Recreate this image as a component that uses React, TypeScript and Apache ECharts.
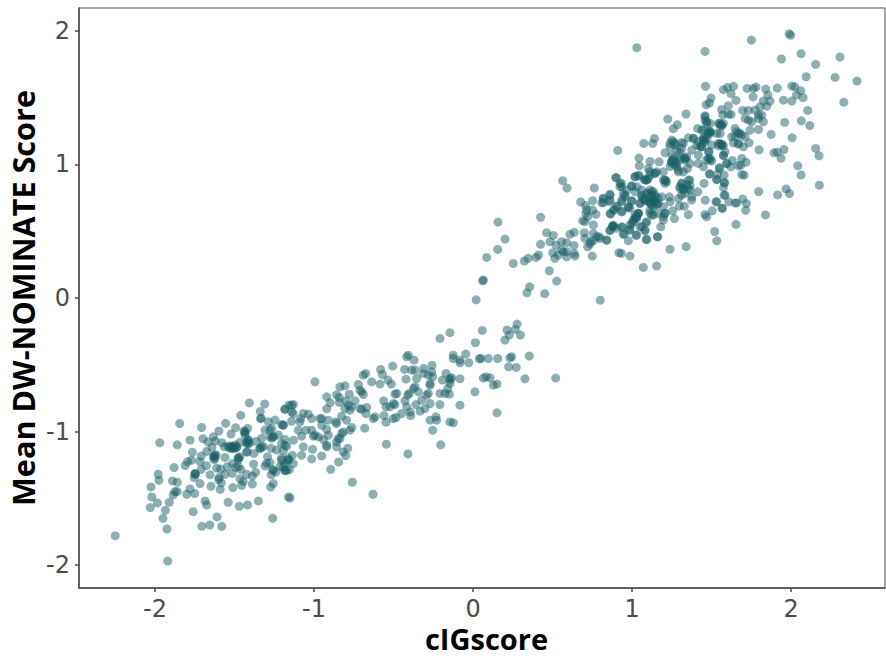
import React, { useEffect, useRef } from "react";
import * as echarts from "echarts";

const xTicks = [-2, -1, 0, 1, 2];
const yTicks = [-2, -1, 0, 1, 2];
const xTitle = "cIGscore";
const yTitle = "Mean DW-NOMINATE Score";

const lowerLeft: number[][] = [
[-2.25,-1.78],[-1.92,-1.97],[-1.925,-1.73],[-1.95,-1.65],[-1.935,-1.59],[-1.91,-1.53],[-2.03,-1.57],[-1.985,-1.535],[-2.02,-1.49],[-2.025,-1.415],[-1.975,-1.365],[-1.98,-1.32],[-1.88,-1.27],[-1.89,-1.37],[-1.86,-1.38],[-1.875,-1.45],[-1.885,-1.475],[-1.86,-1.45],[-1.8,-1.47],[-1.78,-1.43],[-1.75,-1.465],[-1.76,-1.6],[-1.685,-1.52],[-1.675,-1.55],[-1.705,-1.71],[-1.655,-1.7],[-1.61,-1.64],[-1.58,-1.71],[-1.54,-1.53],[-1.47,-1.56],[-1.418,-1.55],[-1.35,-1.52],[-1.26,-1.65],[-1.16,-1.49],[-1.97,-1.085],[-1.845,-0.94],[-1.86,-1.1],[-1.78,-1.065],[-1.707,-0.97],[-1.765,-1.155],[-1.81,-1.255],[-1.795,-1.225],[-1.77,-1.215],[-1.71,-1.184],[-1.717,-1.225],[-1.677,-1.256],[-1.71,-1.284],[-1.749,-1.32],[-1.745,-1.318],[-1.753,-1.346],[-1.717,-1.39],[-1.654,-1.324],[-1.648,-1.41],[-1.59,-1.434],[-1.6,-1.36],[-1.596,-1.344],[-1.583,-1.384],[-1.612,-1.274],[-1.587,-1.28],[-1.56,-1.32],[-1.545,-1.264],[-1.514,-1.314],[-1.51,-1.42],[-1.455,-1.404],[-1.445,-1.374],[-1.466,-1.354],[-1.424,-1.32],[-1.388,-1.394],[-1.388,-1.334],[-1.367,-1.306],[-1.273,-1.416],[-1.256,-1.39],[-1.269,-1.324],[-1.26,-1.289],[-1.24,-1.304],[-1.183,-1.294],[-1.212,-1.26],[-1.308,-1.259],[-1.298,-1.239],[-1.38,-1.244],[-1.292,-1.189],[-1.277,-1.234],[-1.512,-1.239],[-1.493,-1.269],[-1.476,-1.264],[-1.461,-1.284],[-1.478,-1.199],[-1.474,-1.197],[-1.424,-1.154],[-1.42,-1.152],[-1.56,-1.194],[-1.627,-1.184],[-1.622,-1.18],[-1.629,-1.209],[-1.617,-1.174],[-1.675,-1.149],[-1.642,-1.119],[-1.698,-1.054],[-1.667,-1.079],[-1.633,-1.039],[-1.621,-1.071],[-1.598,-0.996],[-1.556,-0.939],[-1.579,-1.084],[-1.564,-1.114],[-1.528,-1.109],[-1.507,-1.114],[-1.487,-1.114],[-1.518,-1.126],[-1.497,-1.126],[-1.522,-1.019],[-1.493,-0.971],[-1.461,-0.879],[-1.407,-0.786],[-1.31,-0.794],[-1.338,-0.851],[-1.336,-0.904],[-1.332,-0.9],[-1.44,-0.996],[-1.434,-1.009],[-1.417,-0.976],[-1.413,-1.064],[-1.407,-1.089],[-1.424,-1.089],[-1.466,-1.081],[-1.365,-1.074],[-1.378,-1.164],[-1.34,-1.126],[-1.319,-1.114],[-1.329,-1.051],[-1.27,-1.126],[-1.277,-1.039],[-1.256,-1.039],[-1.266,-0.976],[-1.245,-0.914],[-1.287,-0.926],[-1.193,-0.951],[-1.183,-0.834],[-1.157,-0.801],[-1.308,-0.989],[-1.224,-1.026],[-1.183,-1.059],[-1.204,-1.089],[-1.193,-1.144],[-1.235,-1.139],[-1.204,-1.201],[-1.162,-1.214],[-1.183,-1.239],
];

const lowerDense: number[][] = [
[-1.539,-1.114],[-1.518,-1.114],[-1.497,-1.101],[-1.528,-1.126],[-1.507,-1.126],[-1.486,-1.119],[-1.434,-1.001],[-1.434,-1.026],[-1.413,-1.064],[-1.413,-1.089],[-1.424,-1.076],[-1.277,-0.989],[-1.256,-1.039],[-1.266,-1.051],[-1.34,-1.126],[-1.329,-1.114],[-1.466,-1.189],[-1.476,-1.214],[-1.633,-1.189],[-1.623,-1.201],[-1.749,-1.314],[-1.256,-1.289],[-1.182,-1.289],[-1.162,-1.201],
];

const lowerRight: number[][] = [
[-1.151,-1.498],[-0.759,-1.38],[-0.629,-1.47],[-0.895,-1.283],[-0.845,-1.228],[-1.015,-1.205],[-0.952,-1.183],[-1.078,-1.178],[-1.136,-1.178],[-1.009,-1.133],[-1.067,-1.115],[-1.13,-1.065],[-1.183,-1.103],[-1.172,-1.11],[-1.13,-1.24],[-1.172,-1.29],[-1.193,-1.265],[-1.155,-1.285],[-1.162,-1.215],[-1.204,-1.215],[-1.078,-1.035],[-1.099,-0.99],[-1.05,-0.99],[-1.015,-0.99],[-0.994,-1.028],[-1.004,-1.035],[-0.973,-1.04],[-0.941,-1.06],[-0.91,-1.028],[-0.92,-1.103],[-0.92,-1.115],[-0.92,-0.985],[-0.952,-0.953],[-0.962,-0.903],[-0.952,-0.903],[-0.91,-0.915],[-1.015,-0.903],[-1.036,-0.87],[-1.067,-0.865],[-1.084,-0.903],[-1.088,-0.928],[-1.141,-0.923],[-1.193,-0.953],[-1.204,-0.948],[-1.183,-0.833],[-1.141,-0.803],[-1.13,-0.798],[-1.141,-0.853],[-1.13,-0.865],[-0.994,-0.628],[-0.92,-0.74],[-0.899,-0.785],[-0.92,-0.83],[-0.858,-0.725],[-0.841,-0.745],[-0.841,-0.782],[-0.837,-0.665],[-0.805,-0.658],[-0.778,-0.72],[-0.799,-0.77],[-0.784,-0.803],[-0.805,-0.828],[-0.742,-0.77],[-0.763,-0.815],[-0.774,-0.84],[-0.862,-0.928],[-0.858,-0.94],[-0.826,-0.885],[-0.795,-0.915],[-0.816,-1.003],[-0.826,-1.015],[-0.763,-0.97],[-0.774,-0.99],[-0.847,-1.053],[-0.837,-1.053],[-0.858,-1.078],[-0.858,-1.115],[-0.788,-1.125],[-0.816,-1.153],[-0.801,-1.18],[-0.681,-0.975],[-0.7,-0.833],[-0.711,-0.828],[-0.669,-0.82],[-0.673,-0.865],[-0.627,-0.903],[-0.616,-0.89],[-0.711,-0.69],[-0.7,-0.703],[-0.69,-0.723],[-0.721,-0.648],[-0.69,-0.578],[-0.675,-0.565],[-0.637,-0.628],[-0.585,-0.645],[-0.581,-0.535],[-0.57,-0.573],[-0.535,-0.615],[-0.514,-0.645],[-0.505,-0.51],[-0.491,-0.72],[-0.48,-0.715],[-0.562,-0.77],[-0.547,-0.815],[-0.522,-0.815],[-0.491,-0.798],[-0.501,-0.79],[-0.56,-0.88],[-0.547,-0.93],[-0.501,-0.903],[-0.484,-0.895],[-0.449,-0.865],[-0.417,-0.815],[-0.428,-0.77],[-0.411,-0.728],[-0.4,-0.715],[-0.392,-0.88],[-0.396,-0.853],[-0.545,-1.095],[-0.409,-1.168],[-0.359,-0.798],[-0.333,-0.848],[-0.302,-0.828],[-0.323,-0.765],[-0.292,-0.728],[-0.281,-0.715],[-0.27,-0.79],[-0.27,-0.653],[-0.27,-0.64],[-0.281,-0.578],[-0.417,-0.44],[-0.407,-0.428],[-0.371,-0.465],[-0.43,-0.535],[-0.422,-0.608],[-0.386,-0.54],[-0.365,-0.54],[-0.354,-0.603],[-0.375,-0.678],[-0.365,-0.665],[-0.344,-0.703],[-0.31,-0.528],[-0.313,-0.565],[-0.258,-0.503],[-0.26,-0.553],[-0.254,-0.59],[-0.27,-0.915],[-0.233,-0.89],[-0.229,-0.915],[-0.254,-0.99],[-0.203,-1.1],[-0.145,-0.928],[-0.124,-0.935],[-0.208,-0.798],[-0.208,-0.715],[-0.176,-0.715],[-0.149,-0.72],[-0.159,-0.678],[-0.193,-0.615],[-0.17,-0.565],[-0.145,-0.603],[-0.134,-0.598],[-0.145,-0.64],[-0.145,-0.615],[-0.082,-0.605],[-0.208,-0.303],[-0.145,-0.26],[-0.124,-0.428],[-0.124,-0.453],[-0.082,-0.465],[-0.082,-0.485],[-0.046,-0.42],[-0.027,-0.485],[0.012,-0.703],[-0.082,-0.803],[0.151,-0.86],[0.015,-0.335],[0.058,-0.243],[0.04,-0.455],[0.05,-0.453],[0.096,-0.453],[0.155,-0.453],[0.065,-0.6],[0.082,-0.59],[0.107,-0.598],[0.128,-0.653],[0.151,-0.645],[0.201,-0.315],[0.214,-0.24],[0.228,-0.278],[0.266,-0.235],[0.277,-0.195],[0.298,-0.278],[0.232,-0.448],[0.243,-0.44],[0.354,-0.435],[0.224,-0.515],[0.272,-0.52],[0.327,-0.605],[0.52,-0.6],
];

const upperLeft: number[][] = [
[0.02,-0.014],[0.065,0.134],[0.061,0.129],[0.086,0.304],[0.155,0.364],[0.201,0.441],[0.157,0.569],[0.253,0.259],[0.323,0.277],[0.346,0.297],[0.396,0.304],[0.413,0.322],[0.425,0.402],[0.425,0.604],[0.356,0.084],[0.339,0.039],[0.451,0.032],[0.48,0.204],[0.526,0.127],[0.8,-0.016],[0.463,0.489],[0.505,0.469],[0.484,0.422],[0.501,0.339],[0.522,0.397],[0.515,0.297],[0.536,0.322],[0.557,0.422],[0.589,0.414],[0.589,0.347],[0.568,0.347],[0.557,0.359],[0.589,0.309],[0.635,0.394],[0.637,0.334],[0.641,0.314],[0.61,0.477],[0.637,0.492],[0.75,0.314],[0.721,0.384],[0.704,0.447],[0.7,0.489],[0.757,0.484],[0.778,0.459],[0.757,0.429],[0.74,0.422],[0.736,0.404],[0.794,0.459],[0.84,0.434],[0.564,0.879],[0.591,0.824],[0.763,0.824],[0.677,0.719],[0.708,0.692],[0.715,0.659],[0.71,0.634],[0.752,0.729],[0.752,0.659],[0.773,0.627],[0.721,0.609],[0.69,0.579],[0.704,0.572],[0.757,0.547],[0.82,0.747],[0.82,0.714],[0.857,0.722],[0.861,0.777],[0.866,0.629],[0.887,0.659],[0.904,0.689],[0.937,0.649],[0.937,0.734],[0.945,0.779],[0.924,0.834],[0.933,0.859],[0.899,0.902],[0.861,0.504],[0.878,0.539],[0.882,0.534],[0.903,0.522],[0.939,0.529],[0.945,0.479],[0.977,0.429],[0.987,0.514],[1.029,0.472],[1.081,0.509],[1.092,0.439],[1.159,0.459],[0.918,0.339],[0.933,0.334],[0.987,0.314],[1.071,0.229],[1.155,0.239],[0.977,0.679],[0.987,0.672],[0.998,0.727],[0.956,0.772],[0.998,0.839],[1.019,0.909],[1.044,0.914],[1.061,0.772],[1.071,0.747],[1.05,0.709],[1.124,0.797],[1.113,0.709],[1.134,0.722],[1.155,0.697],[1.113,0.634],[1.134,0.622],[1.025,0.609],[1.008,0.584],[1.04,0.634],[0.998,0.559],[1.092,0.572],[1.061,0.534],[1.077,0.889],[1.092,0.884],[1.144,0.934],[1.113,0.947],[1.144,0.722],
];

const upperMiddle: number[][] = [
[1.225,1.34],[1.34,1.378],[1.285,1.298],[1.26,1.268],[0.91,1.105],[1.074,1.158],[1.13,1.158],[1.141,1.195],[1.044,1.048],[1.046,0.99],[1.113,1.023],[1.17,1.02],[1.103,0.97],[1.155,0.945],[1.113,0.92],[1.208,1.088],[1.25,1.183],[1.271,1.158],[1.313,1.165],[1.239,1.133],[1.25,1.07],[1.302,1.095],[1.271,1.02],[1.25,1.008],[1.281,0.983],[1.292,0.945],[1.208,0.883],[1.197,0.945],[1.218,0.87],[1.354,1.2],[1.386,1.195],[1.407,1.145],[1.376,1.108],[1.428,1.133],[1.344,1.058],[1.334,1.033],[1.365,1.008],[1.348,0.97],[1.323,0.945],[1.417,1.07],[1.417,1.008],[1.449,0.983],[1.48,1.045],[1.491,1.033],[1.48,1.095],[1.413,1.27],[1.459,1.365],[1.47,1.32],[1.491,1.245],[1.449,1.195],[1.459,1.17],[1.438,1.258],[1.554,1.308],[1.564,1.288],[1.533,1.233],[1.543,1.158],[1.501,1.145],[1.564,1.145],[1.585,1.095],[1.575,1.07],[1.55,0.97],[1.487,0.928],[1.533,0.888],[1.581,0.865],[1.453,0.858],[1.413,0.795],[1.461,0.733],[1.528,0.72],[1.566,0.673],[1.505,0.653],[1.459,0.625],[1.47,0.608],[1.52,0.498],[1.533,0.428],[1.596,1.008],[1.585,0.77],[1.575,0.828],[1.34,0.385],[1.239,0.365],[1.354,0.625],[1.329,0.688],[1.298,0.688],[1.267,0.595],[1.256,0.653],[1.181,0.533],[1.162,0.458],[1.09,0.438],[1.313,0.858],[1.354,0.883],[1.365,0.845],[1.323,0.82],[1.302,0.82],[1.365,0.808],[1.313,0.77],[1.292,0.745],[1.235,0.758],[1.239,0.72],[1.354,0.82],[1.376,0.758],[1.124,0.77],[1.103,0.783],[1.145,0.758],[1.113,0.72],[1.134,0.683],[1.166,0.708],[1.113,0.658],[1.082,0.733],[1.061,0.758],[1.197,0.683],[1.166,0.633],[1.208,0.633],[1.197,0.583],[1.124,0.62],[1.187,0.758],[1.05,0.708],[1.082,0.883],[1.103,0.895],[1.145,0.933],[1.019,0.908],[1.04,0.92],[1.21,0.88],[1.03,0.833],[0.998,0.838],[1.061,0.808],[1.019,0.795],[0.967,0.808],[0.956,0.758],[0.925,0.858],[0.9,0.9],[0.935,0.833],[0.862,0.77],[0.862,0.733],[0.82,0.745],[0.81,0.713],[0.935,0.72],[0.977,0.683],[0.998,0.728],[0.904,0.683],[0.883,0.658],[0.862,0.633],[0.935,0.645],[1.04,0.633],[1.03,0.608],[1.019,0.595],[1.009,0.57],[1.082,0.503],[0.879,0.538],[0.883,0.545],[0.935,0.533],[0.862,0.508],[0.987,0.545],[0.983,0.508],[0.95,0.478],[1.025,0.47],[1.088,0.563],[1.05,0.533],[0.841,0.433],[0.799,0.445],
];

const upperDense: number[][] = [
[1.092,0.784],[1.113,0.759],[1.134,0.734],[1.102,0.722],[1.144,0.772],[1.123,0.697],[1.081,0.734],[1.155,0.709],[1.134,0.797],[1.113,0.809],[1.165,0.747],[1.249,1.022],[1.27,0.997],[1.239,0.984],[1.291,0.959],[1.26,1.034],[1.301,1.034],[1.333,1.047],[1.301,0.834],[1.322,0.809],[1.333,0.784],[1.364,0.884],[1.312,0.859],[1.343,0.847],[1.375,0.734],[1.029,0.596],[1.018,0.621],[1.039,0.634],[1.197,0.884],[1.207,0.859],[1.092,0.884],[1.197,0.609],[1.207,0.634],[1.26,1.171],[1.27,1.146],[1.239,1.158],[1.323,1.158],[1.312,1.121],[1.281,1.108],[1.26,1.046],[1.302,1.058],[1.333,1.046],[1.249,1.021],[1.281,1.008],[1.386,1.196],[1.417,1.171],[1.449,1.196],[1.48,1.233],[1.491,1.246],[1.438,1.133],[1.459,1.183],[1.543,1.308],[1.564,1.296],[1.553,1.158],[1.564,1.146],[1.658,1.246],[1.679,1.233],[1.648,1.208],[1.669,1.158],[1.491,1.046],[1.469,1.033],
];

const upperRight: number[][] = [
[1.03,1.875],[2.415,1.625],[1.459,1.847],[1.751,1.932],[1.988,1.98],[1.998,1.967],[1.94,1.79],[2.063,1.83],[2.155,1.75],[2.308,1.805],[2.095,1.657],[2.277,1.652],[2.332,1.467],[1.462,1.585],[1.575,1.56],[1.6,1.577],[1.638,1.585],[1.623,1.53],[1.654,1.48],[1.724,1.57],[1.763,1.57],[1.78,1.58],[1.761,1.507],[1.841,1.565],[1.854,1.52],[1.914,1.572],[2.005,1.587],[2.025,1.582],[2.061,1.552],[2.034,1.52],[2.076,1.5],[2.005,1.475],[1.952,1.482],[1.497,1.497],[1.487,1.46],[1.466,1.447],[1.606,1.44],[1.564,1.412],[1.571,1.372],[1.606,1.377],[1.623,1.375],[1.696,1.405],[1.732,1.405],[1.711,1.345],[1.732,1.332],[1.753,1.32],[1.774,1.407],[1.826,1.475],[1.868,1.475],[1.847,1.437],[1.805,1.432],[1.795,1.37],[1.816,1.37],[1.795,1.345],[1.826,1.32],[1.795,1.262],[1.742,1.257],[1.875,1.225],[1.96,1.315],[2.065,1.327],[2.118,1.292],[2.105,1.405],[2.007,1.2],[2.155,1.12],[2.176,1.065],[1.799,1.11],[1.893,1.087],[1.914,1.092],[1.937,1.047],[1.956,1.112],[2.042,0.99],[2.063,0.922],[2.178,0.845],[1.969,0.817],[1.99,0.782],[1.916,0.772],[1.797,0.797],[1.839,0.622],[1.654,0.552],[1.719,0.707],[1.715,0.657],[1.696,0.742],[1.659,0.712],[1.648,0.712],[1.608,0.72],[1.568,0.672],[1.533,0.72],[1.579,0.77],[1.581,0.862],[1.533,0.887],[1.537,0.927],[1.579,0.922],[1.489,0.93],[1.55,0.977],[1.596,1.007],[1.621,0.982],[1.631,1.03],[1.669,0.99],[1.69,1.045],[1.684,0.995],[1.717,1.017],[1.69,0.925],[1.705,0.92],[1.575,1.065],[1.485,1.095],[1.501,1.027],[1.627,1.207],[1.648,1.27],[1.669,1.232],[1.69,1.22],[1.711,1.207],[1.638,1.162],[1.669,1.152],[1.701,1.132],[1.736,1.162],[1.543,1.14],[1.564,1.152],[1.575,1.142],[1.554,1.295],[1.575,1.307],[1.491,1.307],[1.48,1.245],[1.491,1.232],[1.554,1.232],[1.459,1.357],[1.459,1.332],[1.47,1.307],[1.449,1.182],[1.47,1.195],[1.438,1.132],[1.449,1.257],
];

const points = [...lowerLeft, ...lowerDense, ...lowerRight, ...upperLeft, ...upperMiddle, ...upperDense, ...upperRight];

export default function App() {
  const ref = useRef<HTMLDivElement>(null);
  useEffect(() => {
    const chart = echarts.init(ref.current!, undefined, { renderer: "svg" });
    const axisBase = {
      type: "value" as const,
      splitLine: { show: false },
      axisLine: { show: true, onZero: false, lineStyle: { color: "#4d4d4d", width: 1.5 } },
      axisTick: { show: true, length: 4, lineStyle: { color: "#4d4d4d", width: 1.5 } },
      nameLocation: "middle" as const,
      nameMoveOverlap: false,
    };
    const titleFont = { fontFamily: "Open Sans", fontWeight: "bold" as const, color: "#000000" };
    const tickFont = { fontFamily: "DejaVu Sans", fontSize: 24, color: "#4d4d4d", formatter: (v: number) => String(v) };
    chart.setOption({
      animation: false,
      backgroundColor: "#ffffff",
      grid: { left: 79, top: 8, width: 806, height: 580, show: true, borderColor: "#4d4d4d", borderWidth: 1, backgroundColor: "transparent", outerBoundsMode: "none" },
      xAxis: {
        ...axisBase,
        name: xTitle,
        nameGap: 38,
        nameTextStyle: { ...titleFont, fontSize: 29, lineHeight: 24, padding: [0, 0, 0, 9] },
        min: -2.478,
        max: 2.591,
        axisTick: { ...axisBase.axisTick, customValues: xTicks },
        axisLabel: { ...tickFont, lineHeight: 18, customValues: xTicks, margin: 12 },
      },
      yAxis: {
        ...axisBase,
        name: yTitle,
        nameGap: 41,
        nameTextStyle: { ...titleFont, fontSize: 30.6 },
        min: -2.172,
        max: 2.172,
        axisTick: { ...axisBase.axisTick, customValues: yTicks },
        axisLabel: { ...tickFont, customValues: yTicks, margin: 9 },
      },
      series: [
        {
          type: "scatter",
          data: points,
          symbolSize: 9,
          itemStyle: { color: "#1a6068", opacity: 0.5 },
        },
      ],
    });
    return () => chart.dispose();
  }, []);
  return <div ref={ref} style={{ position: "absolute", left: 0, top: 0, width: 886, height: 660 }} />;
}
